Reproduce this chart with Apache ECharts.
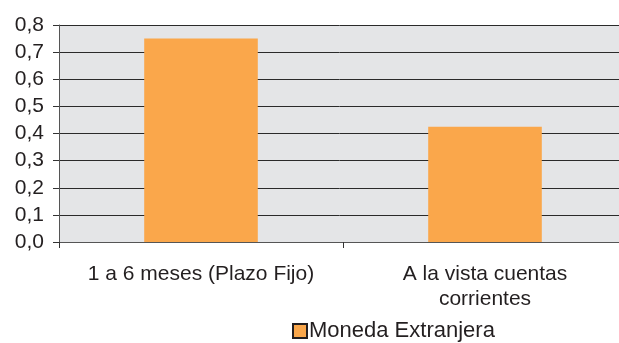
<!DOCTYPE html>
<html><head><meta charset="utf-8">
<script src="https://cdn.jsdelivr.net/npm/echarts@6/dist/echarts.min.js"></script>
<style>html,body{margin:0;padding:0;background:#fff}#c{width:619px;height:343px}</style>
</head><body><div id="c"></div>
<script>
const categories = ['1 a 6 meses (Plazo Fijo)', 'A la vista cuentas\ncorrientes'];
const seriesName = 'Moneda Extranjera';
const values = [0.75, 0.425];
const yTicks = [0, 0.1, 0.2, 0.3, 0.4, 0.5, 0.6, 0.7, 0.8];

const chart = echarts.init(document.getElementById('c'), null, {renderer: 'canvas'});
const font = 'Liberation Sans, Arial, sans-serif';
chart.setOption({
  animation: false,
  grid: {left: 59, width: 568, top: 25, height: 217, show: true, backgroundColor: '#e4e5e7', borderWidth: 0,
         containLabel: false, outerBoundsMode: 'none'},
  legend: {
    data: [seriesName], top: 315, left: 287,
    itemWidth: 14, itemHeight: 14, itemGap: 4,
    icon: 'rect',
    textStyle: {fontFamily: font, fontSize: 22, color: '#231f20', padding: [0,0,0,-3]},
    itemStyle: {borderColor: '#231f20', borderWidth: 2}
  },
  xAxis: {
    type: 'category', data: categories,
    axisLine: {show: true, lineStyle: {color: '#555', width: 1}},
    axisTick: {show: true, length: 6, lineStyle: {color: '#333'}},
    axisLabel: {fontFamily: font, fontSize: 21, color: '#231f20', margin: 20, lineHeight: 25, interval: 0, hideOverlap: false}
  },
  yAxis: {
    type: 'value', min: 0, max: 0.8, interval: 0.1,
    axisLine: {show: true, lineStyle: {color: '#555', width: 1}},
    axisTick: {show: true, length: 6, lineStyle: {color: '#333'}},
    splitLine: {show: true, lineStyle: {color: '#2a2a2a', width: 1}},
    axisLabel: {fontFamily: font, fontSize: 21, color: '#231f20', margin: 15,
      formatter: v => v.toFixed(1).replace('.', ',')}
  },
  series: [{
    name: seriesName, type: 'bar', data: values,
    barCategoryGap: '60%',
    itemStyle: {color: '#faa74b'}
  }]
});
</script></body></html>
